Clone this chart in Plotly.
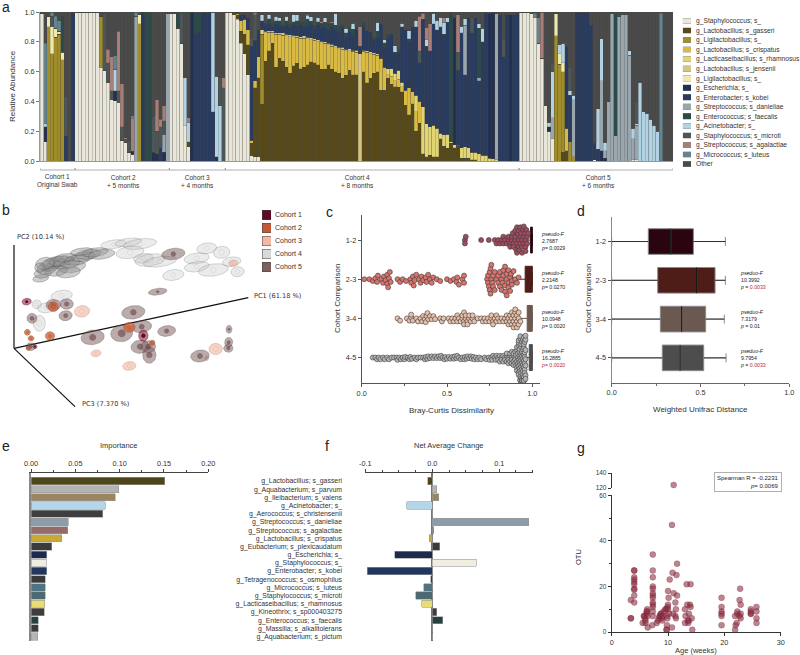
import numpy as np
import plotly.graph_objects as go

W, H = 800, 655
N = 181

# ---------- panel a: per-sample relative abundance (sparse: sample index -> value) ----------
a_names = ["g_Staphylococcus; s_", "g_Lactobacillus; s_gasseri", "g_Ligilactobacillus; s_",
           "g_Lactobacillus; s_crispatus", "g_Lacticaseibacillus; s_rhamnosus", "g_Lactobacillus; s_jensenii",
           "g_Ligilactobacillus; s_", "g_Escherichia; s_", "g_Enterobacter; s_kobei",
           "g_Streptococcus; s_danieliae", "g_Enterococcus; s_faecalis", "g_Acinetobacter; s_",
           "g_Staphylococcus; s_microti", "g_Streptococcus; s_agalactiae", "g_Micrococcus; s_luteus", "Other"]
a_colors = ["#e8e6d8", "#57491a", "#a08d2c", "#d9bb44", "#e3d473", "#d4c583", "#efe9ad", "#24304f", "#293c60",
            "#9aa6ad", "#2d4a4a", "#b2d2e4", "#4c5656", "#a87f78", "#64848f", "#4a4a4a"]
cohort_starts = [0, 10, 37, 53, 137, 181]
cohort_line1 = ["Cohort 1", "Cohort 2", "Cohort 3", "Cohort 4", "Cohort 5"]
cohort_line2 = ["Original Swab", "+ 5 months", "+ 4 months", "+ 8 months", "+ 6 months"]

staph = {0: .99, 1: .13, 10: 1, 11: 1, 12: 1, 13: 1, 14: 1, 15: .995, 16: 1, 17: .63, 18: .61, 19: .525, 20: .41,
         21: .405, 22: .39, 23: .14, 24: .125, 25: .06, 26: .045, 37: .99, 38: .99, 39: .89, 40: .79, 41: .235,
         42: .095, 53: 1, 54: 1, 55: .98, 56: .95, 57: .79, 58: .72, 59: .58, 60: .035, 61: .03, 62: .03, 137: 1,
         138: 1, 139: 1, 140: .99, 141: .96, 142: .79, 143: .69, 144: .37, 145: .2, 146: .15, 158: .01, 169: .01,
         170: .01}
gasseri = {15: .005, 42: .035, 55: .02, 56: .03, 57: .08, 58: .13, 59: .20, 60: .085, 61: .46, 62: .53, 63: .38,
           64: .67, 65: .74, 66: .79, 67: .63, 68: .69, 69: .67, 70: .63, 71: .59, 72: .64, 73: .655, 74: .62,
           75: .63, 76: .645, 77: .665, 78: .66, 79: .645, 80: .615, 81: .615, 82: .645, 83: .615, 84: .60, 85: .59,
           86: .555, 87: .575, 88: .61, 89: .58, 90: .58, 92: .60, 93: .525, 94: .555, 95: .59, 96: .60, 97: .475,
           98: .475, 99: .555, 100: .515, 101: .50, 102: .495, 103: .465, 104: .375, 105: .31, 106: .385, 107: .20,
           108: .255, 109: .05, 110: .03, 111: .04, 112: .03, 113: .03, 114: .15, 115: .10, 116: .085, 117: .12,
           118: .09, 119: .10, 120: .02, 121: .02, 122: .02, 123: .01, 124: .01, 149: .06, 150: .07}
ligil = {2: .90, 3: .72, 4: .83, 5: .85, 6: .68, 17: .34, 28: .92, 63: .47, 147: .84, 148: .65, 149: .54, 151: .13,
         152: .03}
crispatus = {56: .01, 57: .07, 58: .10, 59: .10, 60: .02, 61: .05, 62: .14, 64: .19, 65: .125, 66: .075, 67: .22,
             68: .16, 69: .175, 70: .21, 71: .245, 72: .195, 73: .175, 74: .205, 75: .195, 76: .175, 77: .15, 78: .15,
             79: .155, 80: .18, 81: .175, 82: .135, 83: .155, 84: .16, 85: .165, 86: .195, 87: .165, 88: .13,
             89: .155, 90: .15, 92: .135, 93: .205, 94: .165, 95: .125, 96: .11, 97: .215, 98: .155, 99: .025,
             100: .055, 101: .04, 102: .055, 103: .035, 104: .10, 105: .18, 106: .08, 107: .13, 108: .145, 150: .15}
rhamnosus = {63: .03, 99: .04, 100: .05, 101: .05, 102: .06, 103: .03, 107: .11, 109: .315, 110: .22, 111: .19,
             112: .21, 113: .19, 114: .035, 115: .075, 116: .095, 117: .01, 118: .02, 119: .005, 120: .07, 121: .075,
             122: .07, 123: .05, 124: .05, 125: .05, 126: .04, 127: .04, 128: .02, 129: .015, 130: .01}
jensenii = {64: .01, 65: .01, 66: .01, 67: .012, 68: .01, 69: .015, 70: .01, 71: .012, 72: .01, 73: .012, 74: .01,
            75: .015, 76: .01, 77: .012, 78: .01, 79: .015, 80: .01, 81: .012, 82: .01, 83: .015, 84: .012, 85: .01,
            86: .015, 87: .01, 88: .012, 89: .01, 90: .012, 91: .72, 92: .01, 93: .01, 94: .012, 95: .01, 96: .01}
ligil2 = {2: .07, 3: .18, 4: .06, 5: .02, 6: .05, 28: .06, 147: .15, 148: .07, 149: .06}
escherichia = {1: .10, 21: .065, 26: .02, 32: .06, 33: .05, 35: .06, 43: 1.0, 50: .03, 118: .85, 128: .97, 129: .98,
               134: .98, 145: .03, 160: .07, 161: .02}
enterobacter = {7: .17, 9: 1.0, 29: 1.0, 34: .09, 44: .85, 45: .87, 46: 1, 47: 1, 48: 1, 49: .33, 56: .02, 57: .04,
                58: .03, 59: .08, 60: .63, 61: .27, 62: .18, 63: .06, 64: .04, 65: .05, 66: .03, 67: .06, 68: .05,
                69: .04, 70: .06, 71: .05, 72: .07, 73: .07, 74: .08, 75: .06, 76: .08, 77: .09, 78: .06, 79: .10,
                80: .09, 81: .10, 82: .09, 83: .12, 84: .11, 85: .10, 86: .13, 87: .08, 88: .12, 89: .10, 90: .14,
                91: .05, 92: .155, 93: .135, 94: .135, 95: .085, 96: .11, 97: .23, 98: .135, 99: .21, 100: .235,
                101: .14, 102: .12, 103: .37, 104: .405, 105: .31, 106: .435, 107: .46, 108: .26, 109: .585, 110: .52,
                111: .51, 112: .68, 113: .66, 114: .715, 115: .675, 116: .75, 119: .505, 120: .77, 121: .485, 122: .87,
                123: .80, 124: .90, 125: .49, 126: .76, 127: .95, 131: .98, 132: .70, 133: .98, 135: .98, 136: .99,
                150: .55, 151: .31, 153: 1, 154: 1, 155: 1, 156: 1, 157: .91, 158: .11, 159: .08}
danieliae = {27: .97, 35: .12, 36: .99, 121: .33, 125: .02, 130: .98, 146: .14, 152: .38, 160: .47, 161: .05, 162: .40,
             163: .99, 164: .17, 165: .97, 166: .98, 167: .98, 168: .71, 169: .14, 170: .23}
enterococcus = {6: .24, 30: 1.0, 31: 1.0, 39: .11, 44: .14, 45: .12, 64: .015, 65: .03, 66: .02, 67: .02, 68: .03,
                69: .015, 70: .03, 71: .02, 72: .02, 73: .03, 74: .02, 75: .03, 76: .04, 77: .02, 78: .03, 79: .02,
                80: .03, 81: .03, 82: .04, 83: .02, 84: .03, 85: .04, 86: .02, 87: .03, 88: .03, 89: .04, 90: .02,
                92: .03, 95: .02, 96: .04, 98: .03, 99: .02, 102: .02, 105: .02, 117: .86, 125: .33, 164: .82}
acinetobacter = {1: .02, 21: .145, 41: .325, 42: .13, 49: .67, 50: .54, 51: .37, 63: .04, 65: .03, 67: .03, 68: .02,
                 70: .03, 72: .05, 73: .04, 76: .025, 77: .03, 79: .03, 81: .03, 84: .08, 87: .03, 89: .04, 96: .06,
                 98: .02, 101: .045, 103: .025, 105: .055, 107: .045, 110: .045, 112: .07, 113: .065, 114: .065,
                 115: .08, 116: .03, 120: .045, 121: .045, 125: .03, 126: .09, 145: .03, 146: .31, 148: .06, 149: .13,
                 151: .03, 152: .03, 159: .27, 160: .28, 161: .055, 168: .03, 169: .07, 170: .01, 171: .53, 172: .33,
                 173: .32, 174: .28, 175: .24, 176: .20}
microti = {3: .07, 7: .26, 18: .38, 19: .135, 20: .06, 22: .08, 23: .09, 24: .02, 25: .08, 32: .24, 33: .15, 34: .14,
           35: .09, 40: .21, 51: .19, 52: .49, 60: .05, 61: .17, 108: .08, 119: .12, 123: .10, 132: .12, 146: .06,
           151: .16, 170: .14}
agalactiae = {19: .09, 20: .23, 22: .40, 23: .29, 24: .01, 26: .22, 33: .21, 34: .05, 35: .10, 42: .03, 52: .07,
              76: .01, 80: .01, 83: .01, 91: .13, 108: .23, 109: .04, 110: .08, 111: .18, 115: .03, 119: .25, 143: .31}
micrococcus = {1: .54, 3: .03, 4: .08, 5: .07, 21: .09, 26: .02, 27: .03, 61: .02, 141: .03, 142: .17, 177: .99}
a_series = [staph, gasseri, ligil, crispatus, rhamnosus, jensenii, ligil2, escherichia, enterobacter, danieliae,
            enterococcus, acinetobacter, microti, agalactiae, micrococcus]

# ---------- panel b: ordination ellipsoids, in picture units of the plot (x, y, radius x, radius y) ----------
b_cohorts = ["Cohort 1", "Cohort 2", "Cohort 3", "Cohort 4", "Cohort 5"]
b_colors = ["#5e0a25", "#c0593a", "#f2b8a3", "#d9d9d9", "#7e5f5e"]
# cohort 4, dense left end of the arc (darker where it overlaps)
c4a_x = [122, 128, 140, 150, 160, 172, 185, 200, 215, 230, 250, 265, 285, 305, 135, 170, 205, 245, 120, 195]
c4a_y = [250, 235, 222, 212, 205, 200, 198, 205, 215, 195, 185, 178, 172, 178, 205, 228, 232, 170, 218, 188]
c4a_rx = [24, 26, 30, 32, 35, 38, 38, 40, 42, 38, 36, 38, 40, 40, 28, 34, 36, 34, 16, 32]
c4a_ry = [11, 14, 16, 16, 16, 16, 15, 17, 18, 15, 14, 14, 13, 14, 18, 15, 16, 11, 14, 12]
# cohort 4, lighter right end and the lower samples
c4b_x = [340, 385, 420, 390, 430, 450, 480, 520, 590, 620, 665, 590, 640, 695, 713, 110, 140, 185, 118]
c4b_y = [148, 142, 147, 172, 190, 195, 200, 240, 190, 160, 172, 215, 225, 200, 230, 328, 338, 302, 385]
c4b_rx = [38, 40, 50, 42, 30, 45, 50, 32, 38, 30, 25, 38, 45, 28, 20, 14, 28, 32, 18]
c4b_ry = [13, 12, 15, 18, 14, 18, 15, 16, 16, 16, 18, 15, 18, 14, 15, 13, 15, 16, 24]
c5_x = [520, 473, 160, 200, 197, 96, 92, 400, 278, 365, 425, 420, 448, 445, 500, 600, 687, 686, 685]
c5_y = [177, 290, 330, 327, 362, 370, 455, 352, 427, 415, 395, 455, 480, 455, 408, 483, 403, 442, 460]
c5_rx = [35, 28, 22, 20, 20, 15, 14, 35, 35, 33, 30, 27, 20, 22, 27, 28, 9, 12, 14]
c5_ry = [17, 10, 17, 16, 15, 15, 12, 20, 22, 25, 18, 20, 25, 18, 16, 18, 12, 15, 12]
c3_x = [246, 288, 388, 647, 620, 700]
c3_y = [349, 475, 513, 462, 490, 205]
c3_rx = [23, 15, 20, 20, 6, 14]
c3_ry = [17, 10, 13, 17, 7, 9]
c2_x = [160, 150, 82, 93, 388, 457, 85]
c2_y = [335, 423, 412, 430, 397, 443, 460]
c2_rx = [15, 14, 9, 9, 17, 8, 7]
c2_ry = [15, 13, 9, 8, 15, 8, 6]
c1_x = [80, 430, 105]
c1_y = [320, 422, 455]
c1_rx = [14, 14, 6]
c1_ry = [10, 17, 6]
pc2_x, pc2_y = [42, 42], [460, 150]
pc1_x, pc1_y = [42, 745], [460, 308]
pc3_x, pc3_y = [42, 225], [460, 635]

# ---------- panel c: pairwise Bray-Curtis values ----------
comparisons = ["1-2", "2-3", "3-4", "4-5"]
v12 = [.605, .605, .61, .70, .745, .78, .79, .80, .81, .82, .83, .83, .84, .85, .86, .86, .87, .87, .88, .88, .885, .89,
       .89, .90, .90, .90, .905, .91, .91, .91, .915, .92, .92, .92, .925, .93, .93, .93, .935, .94, .94, .94, .945,
       .95, .95, .95, .955, .96, .96, .96, .965, .97, .97, .975]
v23 = [.015, .045, .065, .08, .09, .095, .115, .125, .13, .14, .15, .15, .155, .16, .165, .17, .21, .225, .24, .26,
       .285, .29, .30, .305, .31, .32, .335, .345, .35, .36, .375, .38, .39, .40, .41, .42, .44, .46, .50, .52, .54,
       .555, .56, .57, .59, .60, .60, .735, .74, .74, .745, .75, .75, .755, .755, .76, .76, .765, .77, .77, .78, .78,
       .79, .80, .80, .81, .81, .82, .82, .825, .83, .83, .84, .84, .84, .85, .85, .85, .86, .86, .86, .87, .87, .875,
       .88, .88, .89, .90, .91, .92]
v34 = [.21, .225, .265, .28, .29, .29, .30, .32, .33, .345, .355, .36, .37, .375, .38, .385, .39, .40, .41, .42, .43,
       .46, .47, .48, .51, .52, .53, .54, .55, .56, .56, .57, .58, .59, .59, .60, .60, .60, .61, .61, .62, .62, .63,
       .63, .64, .65, .65, .66, .68, .70, .71, .72, .73, .74, .75, .76, .76, .77, .77, .78, .79, .79, .80, .81, .82,
       .83, .84, .85, .85, .86, .86, .87, .87, .88, .88, .88, .89, .89, .89, .90, .90, .90, .90, .91, .91, .91, .92,
       .92, .92, .93]
v45 = [.065, .08, .09, .10, .11, .125, .135, .15, .16, .175, .19, .205, .21, .22, .23, .24, .25, .255, .27, .28, .285,
       .295, .31, .32, .33, .345, .36, .37, .375, .385, .39, .40, .41, .42, .43, .44, .45, .46, .465, .475, .485, .49,
       .50, .51, .52, .53, .54, .545, .555, .56, .57, .58, .59, .60, .605, .615, .62, .63, .64, .645, .655, .66, .67,
       .68, .69, .70, .72, .73, .745, .75, .76, .765, .77, .78, .785, .79, .80, .80, .81, .81, .82, .82, .83, .83, .84,
       .84, .85, .85, .85, .86, .86, .86, .87, .87, .87, .88, .88, .88, .88, .89, .89, .89, .89, .90, .90, .90, .90,
       .905, .905, .91, .91, .91, .91, .915, .915, .92, .92, .92, .92, .925, .925, .93, .93, .93, .93, .935, .935, .94,
       .94, .94, .94, .945, .945, .95, .95, .95, .95, .95, .955, .955, .96, .96, .96, .96,
       .91, .915, .92, .92, .925, .925, .93, .93, .93, .935, .935, .935, .94, .94, .94, .94, .945, .945, .945, .95, .95,
       .95, .95, .955, .955, .955, .96, .96, .92, .93, .94, .95, .925, .935, .945, .955, .93, .94, .95, .96]
swarm_colors = ["#a04b5e", "#d9736c", "#e8c0a8", "#b5b5b5"]
swarm_gap = [3.4, 3.6, 3.0, 2.3]
c_q1 = [.990, .958, .970, .982]
c_med = [.995, .990, .990, .995]
c_q3 = [1.0, 1.0, 1.0, 1.0]
c_lo = [.905, .885, .900, .930]
c_hi = [1.0, 1.0, 1.0, 1.0]
c_stat = ["2.7687", "2.2148", "10.0948", "16.2885"]
c_p = ["0.0029", "0.0270", "0.0020", "0.0020"]
c_sig = [False, False, False, True]

# ---------- panel d ----------
d_q1 = [.206, .259, .274, .285]
d_med = [.332, .478, .394, .385]
d_q3 = [.460, .582, .529, .518]
d_lo = [0, 0, 0, 0]
d_hi = [.640, .640, .634, .644]
box_colors = ["#2a0510", "#4e1d17", "#6b5850", "#4d4d4d"]
d_stat = ["10.3992", "7.3179", "9.7954"]
d_p = ["0.0033", "0.01", "0.0033"]
d_sig = [True, False, True]

# ---------- panels e and f ----------
taxa = ["g_Lactobacillus; s_gasseri", "g_Aquabacterium; s_parvum", "g_Ileibacterium; s_valens", "g_Acinetobacter; s_",
        "g_Aerococcus; s_christensenii", "g_Streptococcus; s_danieliae", "g_Streptococcus; s_agalactiae",
        "g_Lactobacillus; s_crispatus", "g_Eubacterium; s_plexicaudatum", "g_Escherichia; s_", "g_Staphylococcus; s_",
        "g_Enterobacter; s_kobei", "g_Tetragenococcus; s_osmophilus", "g_Micrococcus; s_luteus",
        "g_Staphylococcus; s_microti", "g_Lacticaseibacillus; s_rhamnosus", "g_Kineothrix; s_sp000403275",
        "g_Enterococcus; s_faecalis", "g_Massilia; s_alkalitolerans", "g_Aquabacterium; s_pictum"]
importance = [.151, .0992, .0951, .0838, .0808, .0421, .0414, .0346, .0233, .0177, .0173, .0177, .0162, .0162, .0158,
              .0154, .0147, .0083, .0079, .0075]
net_change = [-.007, .0065, .0095, -.038, 0, .144, .002, -.0045, .0115, -.056, .066, -.097, -.0025, -.0125, -.025,
              -.016, .007, .016, .0005, 0]
taxa_colors = ["#4e4618", "#b3b3b3", "#9a8560", "#b5d5e9", "#3f3f3f", "#8b9da9", "#936c68", "#c9aa30", "#3b3b3b",
               "#1d2a4d", "#f0eee0", "#22375f", "#3a3a3a", "#4f7380", "#4d6a73", "#e8dc74", "#3d3d3d", "#26413f",
               "#3a3a3a", "#b5b5b5"]

# ---------- panel g ----------
age = [3.4, 3.4, 3.4, 4, 4, 4, 4, 4, 4, 4, 4, 4, 4, 5.5, 5.7, 5.8, 5.9, 6, 6, 6.2, 6.2, 6.3, 6.3, 6.4, 6.4, 7.3, 7.3, 7.3,
       7.3, 7.3, 7.3, 7.3, 7.3, 7.3, 7.3, 7.3, 7.3, 7.3, 7.2, 8, 8.2, 8.4, 8.5, 8.6, 8.7, 8.8, 8.9, 9, 9.1, 9.2, 9.5, 9.7,
       10, 10.1, 10, 9.9, 10, 10.2, 9.8, 9.9, 9.8, 9.7, 9.8, 10.3, 10.7, 10.8, 11, 11.5, 11.6, 11.6, 11, 11.3, 11.4, 11.3,
       11.4, 10.7, 10.9, 13.3, 14, 13.4, 13.9, 14, 13, 13.7, 13.1, 14.2, 13.5, 13.7, 13, 13.6, 14.3, 19.5, 19.5, 19.5,
       19.5, 19.5, 19.5, 21.9, 22, 22.2, 21.9, 22.3, 22.3, 22.8, 22.7, 22.9, 22.9, 22.7, 22.9, 24.7, 24.7, 24.7, 24.7,
       25.7, 25.7, 25.7, 25.7]
otu = [14, 6, 6, 27, 27, 24, 23, 22, 21, 19, 18.5, 16, 13, 4, 7, 7, 6, 4, 5, 8, 9, 10, 9, 7, 2, 34, 27, 24, 20, 19, 17, 16,
       15, 13, 12, 11, 9, 7, 3, 4, 5, 6, 7, 7, 8, 8, 6, 5, 7, 9, 10, 10, 18, 15, 12, 11, 10, 8, 7, 6, 3, 1, 1, 23, 47, 26, 17,
       25, 30, 16, 124, 13, 10, 7, 6, 2, 8, 21, 21, 12, 12, 11, 10, 8, 7, 6, 5, 5, 4, 4, 1, 15, 11, 9, 8, 7, 3, 1, 3, 4, 7, 8,
       9, 19, 14, 12, 8, 7, 6, 10, 9, 8, 8, 11, 9, 6, 4]
OTU_BREAK = 100


# ---------- helpers (layout only) ----------
def xdom(l, r):
    return [l / W, r / W]


def ydom(t, b):
    return [1 - b / H, 1 - t / H]


def dense(d):
    return [float(d.get(i, 0)) for i in range(N)]


def ellipse(cx, cy, rx, ry, tilt):
    th = np.linspace(0, 2 * np.pi, 37)
    a = np.radians(tilt)
    ex, ey = rx * np.cos(th), ry * np.sin(th)
    return cx + ex * np.cos(a) - ey * np.sin(a), cy + ex * np.sin(a) + ey * np.cos(a)


def beeswarm(vals, k, sx, sy, d):
    placed, out = [], []
    for v in sorted(vals):
        for step in range(0, 80):
            off = (1 if step % 2 else -1) * ((step + 1) // 2) * d * 0.25
            if all((sx * (v - pv)) ** 2 + (off - po) ** 2 >= d * d for pv, po in placed):
                break
        placed.append((v, off))
        out.append(k + off / sy)
    return sorted(vals), out


TXT = "#333333"
FONT = "Liberation Sans"
TICK = dict(size=7.3, color=TXT, family=FONT)
TICK_G = dict(size=6.4, color=TXT, family=FONT)
fig = go.Figure()
ann = []


def text(x, y, s, size=7, anchor="center", va="middle", color=TXT, family=FONT, angle=0, **kw):
    ann.append(dict(x=x / W, y=1 - y / H, xref="paper", yref="paper", text=s, showarrow=False,
                    font=dict(size=size, color=color, family=family), xanchor=anchor, yanchor=va, textangle=angle,
                    align=kw.pop("align", "left"), **kw))


axes = dict()


def ax(name, **kw):
    base = dict(showgrid=False, zeroline=False, automargin=False, tickfont=TICK, color=TXT)
    base.update(kw)
    axes[name] = base


def hidden(name, **kw):
    axes[name] = dict(visible=False, showgrid=False, zeroline=False, automargin=False, fixedrange=True, **kw)


# ---- panel a ----
stack = np.array([dense(s) for s in a_series])
other = np.clip(1 - stack.sum(axis=0), 0, 1)
samples = list(range(N))
for name, col, vals in zip(a_names, a_colors, list(stack) + [other]):
    fig.add_trace(go.Bar(x=samples, y=list(vals), name=name, width=1, marker=dict(color=col, line=dict(color="rgba(70,70,65,0.55)", width=0.4)),
                         xaxis="x", yaxis="y"))
ax("xaxis", domain=xdom(40, 673), range=[-0.5, 180.5], showticklabels=False, ticks="", showline=True, linecolor="#999", linewidth=1, anchor="y")
ax("yaxis", domain=ydom(12, 161), range=[0, 1], tickvals=[0, .2, .4, .6, .8, 1], ticktext=["0.0", "0.2", "0.4", "0.6", "0.8", "1.0"],
   ticks="outside", ticklen=3, showline=True, linecolor="#999", linewidth=1, anchor="x", tickcolor="#777")
text(13, 86, "Relative Abundance", size=8, angle=-90)

shapes = []
for k, (lo, hi) in enumerate(zip(cohort_starts[:-1], cohort_starts[1:])):
    x0, x1 = lo - 0.5, hi - 0.5
    by = 1 - 170 / H
    shapes.append(dict(type="line", xref="x", yref="paper", x0=x0, x1=x1, y0=by, y1=by, line=dict(color="#999", width=0.8)))
    for xx in (x0, x1):
        shapes.append(dict(type="line", xref="x", yref="paper", x0=xx, x1=xx, y0=by, y1=by + 2 / H, line=dict(color="#999", width=0.8)))
    cx = {0: 57.5, 1: 123, 2: 197, 3: 357, 4: 598.7}[k]
    text(cx, 181, cohort_line1[k] + "<br>" + cohort_line2[k], size=6.5, align="center")

# a legend
lg_y = list(range(len(a_names)))
fig.add_trace(go.Bar(x=[1] * 16, y=lg_y, orientation="h", width=0.6, marker=dict(color=a_colors, line=dict(color="#888", width=0.4)),
                     xaxis="x2", yaxis="y2", showlegend=False))
hidden("xaxis2", domain=xdom(682.7, 691), range=[0, 1], anchor="y2")
ax("yaxis2", domain=ydom(16.2, 168.8), range=[15.5, -0.5], tickvals=lg_y, ticktext=a_names, side="right", anchor="x2", ticks="", showline=False,
   ticklabelstandoff=4, tickfont=dict(size=6.7, color=TXT, family=FONT))

# ---- panel b ----
hidden("xaxis3", domain=xdom(0, 320), range=[0, 960], anchor="y3")
hidden("yaxis3", domain=ydom(195, 415), range=[660, 0], anchor="x3")
for px_, py_ in ((pc2_x, pc2_y), (pc1_x, pc1_y), (pc3_x, pc3_y)):
    fig.add_trace(go.Scatter(x=px_, y=py_, mode="lines", line=dict(color="#111", width=1.2), xaxis="x3", yaxis="y3", showlegend=False))


def draw_group(xs, ys, rxs, rys, fill, edge, inner, inner_edge):
    for cx, cy, rx, ry in zip(xs, ys, rxs, rys):
        tilt = -8 if rx > 1.3 * ry else 0
        ex, ey = ellipse(cx, cy, rx, ry, tilt)
        fig.add_trace(go.Scatter(x=ex, y=ey, mode="lines", fill="toself", fillcolor=fill, line=dict(color=edge, width=0.6),
                                 xaxis="x3", yaxis="y3", showlegend=False))
        r = min(rx, ry) * 0.45
        ex, ey = ellipse(cx, cy, r, r, 0)
        fig.add_trace(go.Scatter(x=ex, y=ey, mode="lines", fill="toself", fillcolor=inner, line=dict(color=inner_edge, width=0.4),
                                 xaxis="x3", yaxis="y3", showlegend=False))


draw_group(c4a_x, c4a_y, c4a_rx, c4a_ry, "rgba(140,140,140,0.42)", "rgba(70,70,70,0.55)", "rgba(215,215,215,0.22)", "rgba(110,110,110,0.3)")
draw_group(c4b_x, c4b_y, c4b_rx, c4b_ry, "rgba(190,190,190,0.30)", "rgba(110,110,110,0.45)", "rgba(240,240,240,0.30)", "rgba(130,130,130,0.35)")
draw_group(c3_x, c3_y, c3_rx, c3_ry, "rgba(240,175,150,0.55)", "rgba(170,110,90,0.5)", "rgba(250,220,205,0.6)", "rgba(180,120,100,0.5)")
draw_group(c5_x, c5_y, c5_rx, c5_ry, "rgba(120,90,90,0.50)", "rgba(80,60,60,0.5)", "rgba(105,65,70,0.6)", "rgba(80,50,50,0.4)")
draw_group(c2_x, c2_y, c2_rx, c2_ry, "rgba(205,95,55,0.75)", "rgba(130,55,30,0.6)", "rgba(205,95,55,0.6)", "rgba(130,55,30,0.4)")
draw_group(c1_x, c1_y, c1_rx, c1_ry, "rgba(150,35,70,0.6)", "rgba(80,10,35,0.7)", "rgba(90,5,35,0.95)", "rgba(80,10,35,0.7)")
DJ = "DejaVu Sans"
text(15, 237, "PC2 (10.14 %)", size=6.6, anchor="left", family=DJ)
text(252, 296, "PC1 (61.18 %)", size=6.6, anchor="left", family=DJ)
text(80, 404, "PC3 (7.370 %)", size=6.6, anchor="left", family=DJ)
lg2 = list(range(5))
fig.add_trace(go.Bar(x=[1] * 5, y=lg2, orientation="h", width=0.7, marker=dict(color=b_colors, line=dict(color="#444", width=0.5)),
                     xaxis="x4", yaxis="y4", showlegend=False))
hidden("xaxis4", domain=xdom(262, 271), range=[0, 1], anchor="y4")
ax("yaxis4", domain=ydom(208.5, 273.5), range=[4.5, -0.5], tickvals=lg2, ticktext=b_cohorts, side="right", anchor="x4", showline=False,
   ticklabelstandoff=3, tickfont=dict(size=7, color=TXT, family=FONT))

# ---- panel c ----
C_SX, C_SY = 170.6, 39.1
for k, (vals, col) in enumerate(zip([v12, v23, v34, v45], swarm_colors)):
    sx_, sy_ = beeswarm(vals, k, C_SX, C_SY, swarm_gap[k])
    fig.add_trace(go.Scatter(x=sx_, y=sy_, mode="markers", marker=dict(size=5, color=col, line=dict(color="#3a3a3a", width=0.6)),
                             xaxis="x5", yaxis="y5", showlegend=False))
for k in range(4):
    fig.add_trace(go.Box(y=[k], q1=[c_q1[k]], median=[c_med[k]], q3=[c_q3[k]], lowerfence=[c_lo[k]], upperfence=[c_hi[k]], orientation="h",
                         width=0.66, fillcolor=box_colors[k], line=dict(color=box_colors[k], width=1), whiskerwidth=0.5, boxpoints=False,
                         xaxis="x5", yaxis="y5", showlegend=False))
ax("xaxis5", domain=xdom(361.7, 540), range=[0, 1.045], anchor="y5", tickvals=[0, .5, 1], ticktext=["0.0", "0.5", "1.0"], ticks="outside", ticklen=3,
   showline=True, linecolor="#555", linewidth=1, minor=dict(tickvals=[.25, .75], ticks="outside", ticklen=2, tickcolor="#555"), tickcolor="#555")
ax("yaxis5", domain=ydom(215, 383), range=[3.65, -0.64], tickvals=[0, 1, 2, 3], ticktext=comparisons, ticks="outside", ticklen=3, anchor="x5",
   showline=True, linecolor="#555", linewidth=1, tickcolor="#555")
text(451, 410, "Bray-Curtis Dissimilarity", size=8)
text(337, 299, "Cohort Comparison", size=8, angle=-90)
RED = "#b5283a"
for yy, st, pv, sig in zip([240.5, 279.5, 318.5, 358], c_stat, c_p, c_sig):
    p_txt = f"<i>p</i>= {pv}"
    if sig:
        p_txt = f"<span style='color:{RED}'>{p_txt}</span>"
    text(539, yy, f"<i>pseudo-F</i><br>{st}<br>{p_txt}", size=5.2, color="#222", anchor="left")

# ---- panel d ----
for k in range(4):
    fig.add_trace(go.Box(y=[k], q1=[d_q1[k]], median=[d_med[k]], q3=[d_q3[k]], lowerfence=[d_lo[k]], upperfence=[d_hi[k]], orientation="h",
                         width=0.66, fillcolor=box_colors[k], line=dict(color="#8a8a8a", width=1), whiskerwidth=0.35, boxpoints=False,
                         xaxis="x6", yaxis="y6", showlegend=False))
    shapes.append(dict(type="line", xref="x6", yref="y6", x0=d_med[k], x1=d_med[k], y0=k - .33, y1=k + .33, line=dict(color="#111", width=1)))
    shapes.append(dict(type="line", xref="x6", yref="y6", x0=d_lo[k], x1=d_q1[k], y0=k, y1=k, line=dict(color="#333", width=1)))
    shapes.append(dict(type="line", xref="x6", yref="y6", x0=d_q3[k], x1=d_hi[k], y0=k, y1=k, line=dict(color="#333", width=1)))
ax("xaxis6", domain=xdom(611.7, 789.3), range=[0, 1], anchor="y6", tickvals=[0, .5, 1], ticktext=["0.0", "0.5", "1.0"], ticks="outside", ticklen=3,
   showline=True, linecolor="#666", linewidth=1, minor=dict(tickvals=[.25, .75], ticks="outside", ticklen=2, tickcolor="#666"), tickcolor="#666")
ax("yaxis6", domain=ydom(216.7, 382.7), range=[3.64, -0.64], tickvals=[0, 1, 2, 3], ticktext=comparisons, ticks="outside", ticklen=3, anchor="x6",
   showline=True, linecolor="#888", linewidth=1.2, tickcolor="#555")
text(700, 409, "Weighted Unifrac Distance", size=8)
text(588, 299, "Cohort Comparison", size=8, angle=-90)
for yy, st, pv, sig in zip([280, 318.7, 357.7], d_stat, d_p, d_sig):
    p_txt = f"<span style='color:{RED}'>{pv}</span>" if sig else pv
    text(738.3, yy, f"<i>pseduo-F</i><br>{st}<br><i>p</i> = {p_txt}", size=5.2, color="#222", anchor="left")

# ---- panel e ----
idx = list(range(len(taxa)))
fig.add_trace(go.Bar(x=importance, y=idx, orientation="h", width=0.88, marker=dict(color=taxa_colors, line=dict(color="#999", width=0.6)),
                     xaxis="x7", yaxis="y7", showlegend=False))
ax("xaxis7", domain=xdom(31, 208.3), range=[0, .2], side="top", anchor="y7", tickvals=[0, .05, .1, .15, .2],
   ticktext=["0.00", "0.05", "0.10", "0.15", "0.20"], ticks="outside", ticklen=3, showline=True, linecolor="#444", linewidth=1, tickcolor="#444",
   minor=dict(tickvals=[.025, .075, .125, .175], ticks="outside", ticklen=2, tickcolor="#444"))
ax("yaxis7", domain=ydom(473, 641), range=[19.55, -0.98], showticklabels=False, ticks="", showline=True, linecolor="#888", linewidth=1.5, anchor="x7")
text(119, 445, "Importance", size=7.5)

# ---- panel f ----
fig.add_trace(go.Bar(x=net_change, y=idx, orientation="h", width=0.88, marker=dict(color=taxa_colors, line=dict(color="#999", width=0.6)),
                     xaxis="x8", yaxis="y8", showlegend=False))
ax("xaxis8", domain=xdom(365.3, 532.7), range=[-.1, .15], side="top", anchor="y8", tickvals=[-.1, 0, .1], ticktext=["-0.1", "0.0", "0.1"],
   ticks="outside", ticklen=3, showline=True, linecolor="#444", linewidth=1, tickcolor="#444", zeroline=True, zerolinecolor="#777", zerolinewidth=1.5,
   minor=dict(tickvals=[-.075, -.05, -.025, .025, .05, .075, .125, .15], ticks="outside", ticklen=2, tickcolor="#444"))
ax("yaxis8", domain=ydom(473, 641), range=[19.55, -0.98], tickvals=idx, ticktext=taxa, anchor="free", position=342 / W, side="left", showline=False, ticks="",
   ticklabelstandoff=0, tickfont=dict(size=6.9, color=TXT, family=FONT))
text(449, 445, "Net Average Change", size=7.5)

# ---- panel g ----
lo_x = [a for a, o in zip(age, otu) if o < OTU_BREAK]
lo_y = [o for o in otu if o < OTU_BREAK]
hi_x = [a for a, o in zip(age, otu) if o >= OTU_BREAK]
hi_y = [o for o in otu if o >= OTU_BREAK]
mk = dict(size=6, color="rgba(140,45,65,0.58)", line=dict(color="rgba(110,30,45,0.5)", width=0.5))
fig.add_trace(go.Scatter(x=lo_x, y=lo_y, mode="markers", marker=mk, xaxis="x9", yaxis="y9", showlegend=False, cliponaxis=False))
fig.add_trace(go.Scatter(x=hi_x, y=hi_y, mode="markers", marker=mk, xaxis="x10", yaxis="y10", showlegend=False, cliponaxis=False))
ax("xaxis9", domain=xdom(611.7, 780.7), range=[0, 30], anchor="y9", tickvals=[0, 10, 20, 30], ticks="outside", ticklen=3, showline=True, linecolor="#333",
   linewidth=1, tickcolor="#333")
ax("yaxis9", domain=ydom(495.3, 632), range=[0, 60], anchor="x9", tickvals=[0, 20, 40, 60], ticks="outside", ticklen=3, showline=True, linecolor="#333",
   linewidth=1, tickcolor="#333", tickfont=TICK_G, minor=dict(tickvals=[10, 30, 50], ticks="outside", ticklen=2, tickcolor="#333"))
hidden("xaxis10", domain=xdom(611.7, 780.7), range=[0, 30], anchor="y10")
ax("yaxis10", domain=ydom(473, 488), range=[120, 140], anchor="x10", tickvals=[120, 140], ticks="outside", ticklen=3, showline=True, linecolor="#333",
   linewidth=1, tickcolor="#333", tickfont=TICK_G)
text(696, 650, "Age (weeks)", size=7.5)
text(578, 557, "OTU", size=7.5, angle=-90)
text(781.7, 482, "Spearman R = -0.2231<br><i>p</i>= 0.0069", size=6, anchor="right", color="#222", align="right",
     bordercolor="#b0b0b0", borderwidth=1, borderpad=2, bgcolor="white")

# ---- panel letters ----
for s, x, y in [("a", 6, 7), ("b", 6, 210), ("c", 329, 212), ("d", 581, 211), ("e", 6, 446), ("f", 327, 446), ("g", 581, 448)]:
    text(x, y, s, size=14, color="#222")

fig.update_layout(width=W, height=H, autosize=False, margin=dict(l=0, r=0, t=0, b=0), paper_bgcolor="white", plot_bgcolor="white",
                  showlegend=False, barmode="stack", boxmode="overlay", annotations=ann, shapes=shapes, font=dict(family=FONT, color=TXT), **axes)
fig.write_html("out.html", config=dict(displayModeBar=False),
               post_script="document.body.style.margin='0';document.body.style.overflow='hidden';")
